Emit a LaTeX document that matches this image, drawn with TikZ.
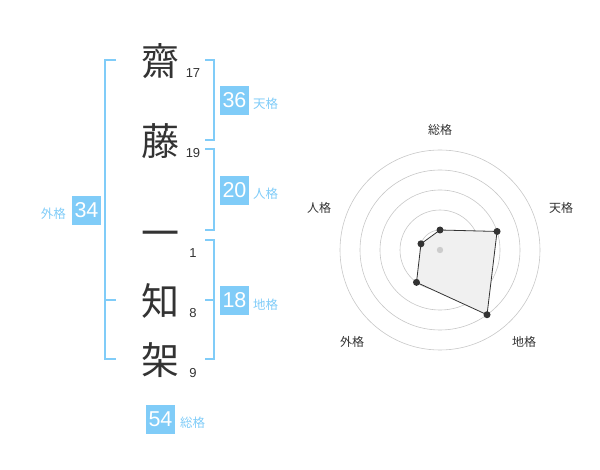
\documentclass[tikz,border=0pt]{standalone}
\usepackage{fontspec}
\setmainfont{Liberation Sans}
\newfontfamily\jpfont{Noto Sans CJK JP}
\definecolor{kakublue}{HTML}{80CCF8}
\definecolor{inkgray}{HTML}{333333}

\begin{document}
\begin{tikzpicture}
  [x=1pt,y=-1pt,
   kanji/.style={font=\jpfont\fontsize{38}{38}\selectfont,text=inkgray,inner sep=0pt},
   strokes/.style={font=\fontsize{13}{13}\selectfont,text=inkgray,inner sep=0pt},
   kakubox/.style={fill=kakublue,text=white,minimum size=29pt,inner sep=0pt,font=\fontsize{21.5}{21.5}\selectfont},
   kakuname/.style={font=\jpfont\fontsize{12.5}{12.5}\selectfont,text=kakublue,inner sep=0pt},
   brace/.style={draw=kakublue,line width=1.8pt},
   ring/.style={draw=black!22,line width=0.6pt},
   vertex/.style={circle,fill=inkgray,inner sep=0pt,minimum size=7pt},
   axisname/.style={font=\jpfont\fontsize{12}{12}\selectfont,text=inkgray,inner sep=0pt}]
  \useasboundingbox (0,0) rectangle (600,470);

  % name and stroke counts
  \foreach \name/\ch/\y/\n/\ny in
  {k1/齋/61/17/73, k2/藤/141/19/153, k3/一/239/1/253, k4/知/301/8/313, k5/架/360/9/373}
  {
    \node[kanji] (\name) at (160,\y) {\ch};
    \node[strokes] (\name n) at (193,\ny) {\n};
  }

  % brackets
  \draw[brace] (205,60) -- (214,60) -- (214,140) -- (205,140);
  \draw[brace] (205,149) -- (214,149) -- (214,230) -- (205,230);
  \draw[brace] (205,240) -- (214,240) -- (214,359) -- (205,359);
  \draw[brace] (205,300) -- (214,300);
  \draw[brace] (116,60) -- (105,60) -- (105,359) -- (116,359);
  \draw[brace] (105,300) -- (116,300);

  % kaku boxes
  \node[kakubox] (ten) at (234.5,100.5) {36};
  \node[kakuname,anchor=west] (tenname) at (253,104) {天格};
  \node[kakubox] (jin) at (234.5,190.5) {20};
  \node[kakuname,anchor=west] (jinname) at (253,194) {人格};
  \node[kakubox] (chi) at (234.5,300.5) {18};
  \node[kakuname,anchor=west] (chiname) at (253,305) {地格};
  \node[kakubox] (gai) at (86.5,210.5) {34};
  \node[kakuname,anchor=east] (gainame) at (66,214) {外格};
  \node[kakubox] (sou) at (160.5,419) {54};
  \node[kakuname,anchor=west] (souname) at (180,423) {総格};

  % radar chart
  \begin{scope}[shift={(440,250)},x=1pt,y=1pt]
    \foreach \r in {20,40,60,80,100}
      \draw[ring] (0,0) circle (\r);
    \coordinate (rsou) at (90:20);
    \coordinate (rten) at (18:60);
    \coordinate (rchi) at (-54:80);
    \coordinate (rgai) at (-126:40);
    \coordinate (rjin) at (162:20);
    \fill[black!6] (rsou) -- (rten) -- (rchi) -- (rgai) -- (rjin) -- cycle;
    \draw[inkgray,line width=0.8pt] (rsou) -- (rten) -- (rchi) -- (rgai) -- (rjin) -- cycle;
    \fill[black!20] (0,0) circle (3.2);
    \foreach \p in {rsou,rten,rchi,rgai,rjin}
      \node[vertex] (\p dot) at (\p) {};
    \node[axisname] (asou) at (0,120) {総格};
    \node[axisname] (aten) at (121,42) {天格};
    \node[axisname] (achi) at (84,-92) {地格};
    \node[axisname] (agai) at (-88,-92) {外格};
    \node[axisname] (ajin) at (-121,42) {人格};
  \end{scope}
\end{tikzpicture}
\end{document}
